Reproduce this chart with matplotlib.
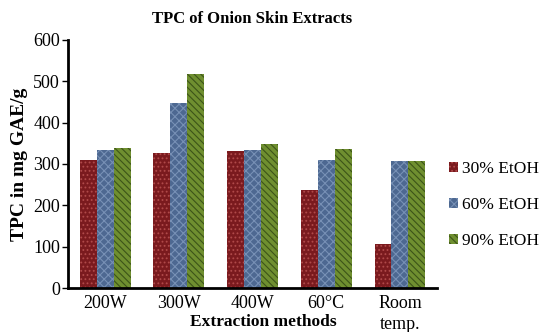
import matplotlib
matplotlib.use("Agg")
import matplotlib.pyplot as plt
import numpy as np

methods = ["200W", "300W", "400W", "60°C", "Room\ntemp."]
etoh_30 = [310, 326, 332, 237, 106]
etoh_60 = [334, 448, 334, 310, 307]
etoh_90 = [339, 518, 348, 337, 307]
labels = ["30% EtOH", "60% EtOH", "90% EtOH"]

plt.rcParams['font.family'] = ['Liberation Serif', 'DejaVu Serif']
plt.rcParams['hatch.linewidth'] = 0.8

fig = plt.figure(figsize=(5.46, 3.32), dpi=100)
ax = fig.add_axes([0.125, 0.1325, 0.675, 0.7475])

x = np.arange(len(methods))
w = 0.23
series = [etoh_30, etoh_60, etoh_90]
faces = ["#7a1a1e", "#4d6891", "#6f8f30"]
hatch_cols = ["#b04a4a", "#7790b5", "#3c5418"]
hatches = ["....", "xxxx", "\\\\\\\\\\"]

for i, vals in enumerate(series):
    ax.bar(x + (i - 1) * w, vals, w, color=faces[i], edgecolor=hatch_cols[i],
           hatch=hatches[i], linewidth=0, label=labels[i])

ax.set_xlim(-0.5, 4.5)
ax.set_ylim(0, 600)
ax.set_yticks(np.arange(0, 601, 100))
ax.set_xticks(x)
ax.set_xticklabels(methods, va='top', linespacing=1.3)
ax.tick_params(axis='x', length=0, labelsize=13, pad=5)
ax.tick_params(axis='y', length=4, width=1, labelsize=13, direction='out', pad=2)

for s in ["top", "right"]:
    ax.spines[s].set_visible(False)
ax.spines["left"].set_linewidth(2)
ax.spines["bottom"].set_linewidth(2)

ax.set_title("TPC of Onion Skin Extracts", fontsize=12, fontweight='bold', pad=12)
ax.set_ylabel("TPC in mg GAE/g", fontsize=14, fontweight='bold')
ax.yaxis.set_label_coords(-0.11, 0.5)
ax.set_xlabel("Extraction methods", fontsize=12.5, fontweight='bold')
ax.xaxis.set_label_coords(0.53, -0.105)
ax.xaxis.label.set_va('top')

ax.legend(loc='center left', bbox_to_anchor=(1.0, 0.335), frameon=False,
          fontsize=12.5, handlelength=0.5, handleheight=0.5, handletextpad=0.25,
          labelspacing=1.15, borderaxespad=0.3)

fig.savefig("out.png", dpi=100)
